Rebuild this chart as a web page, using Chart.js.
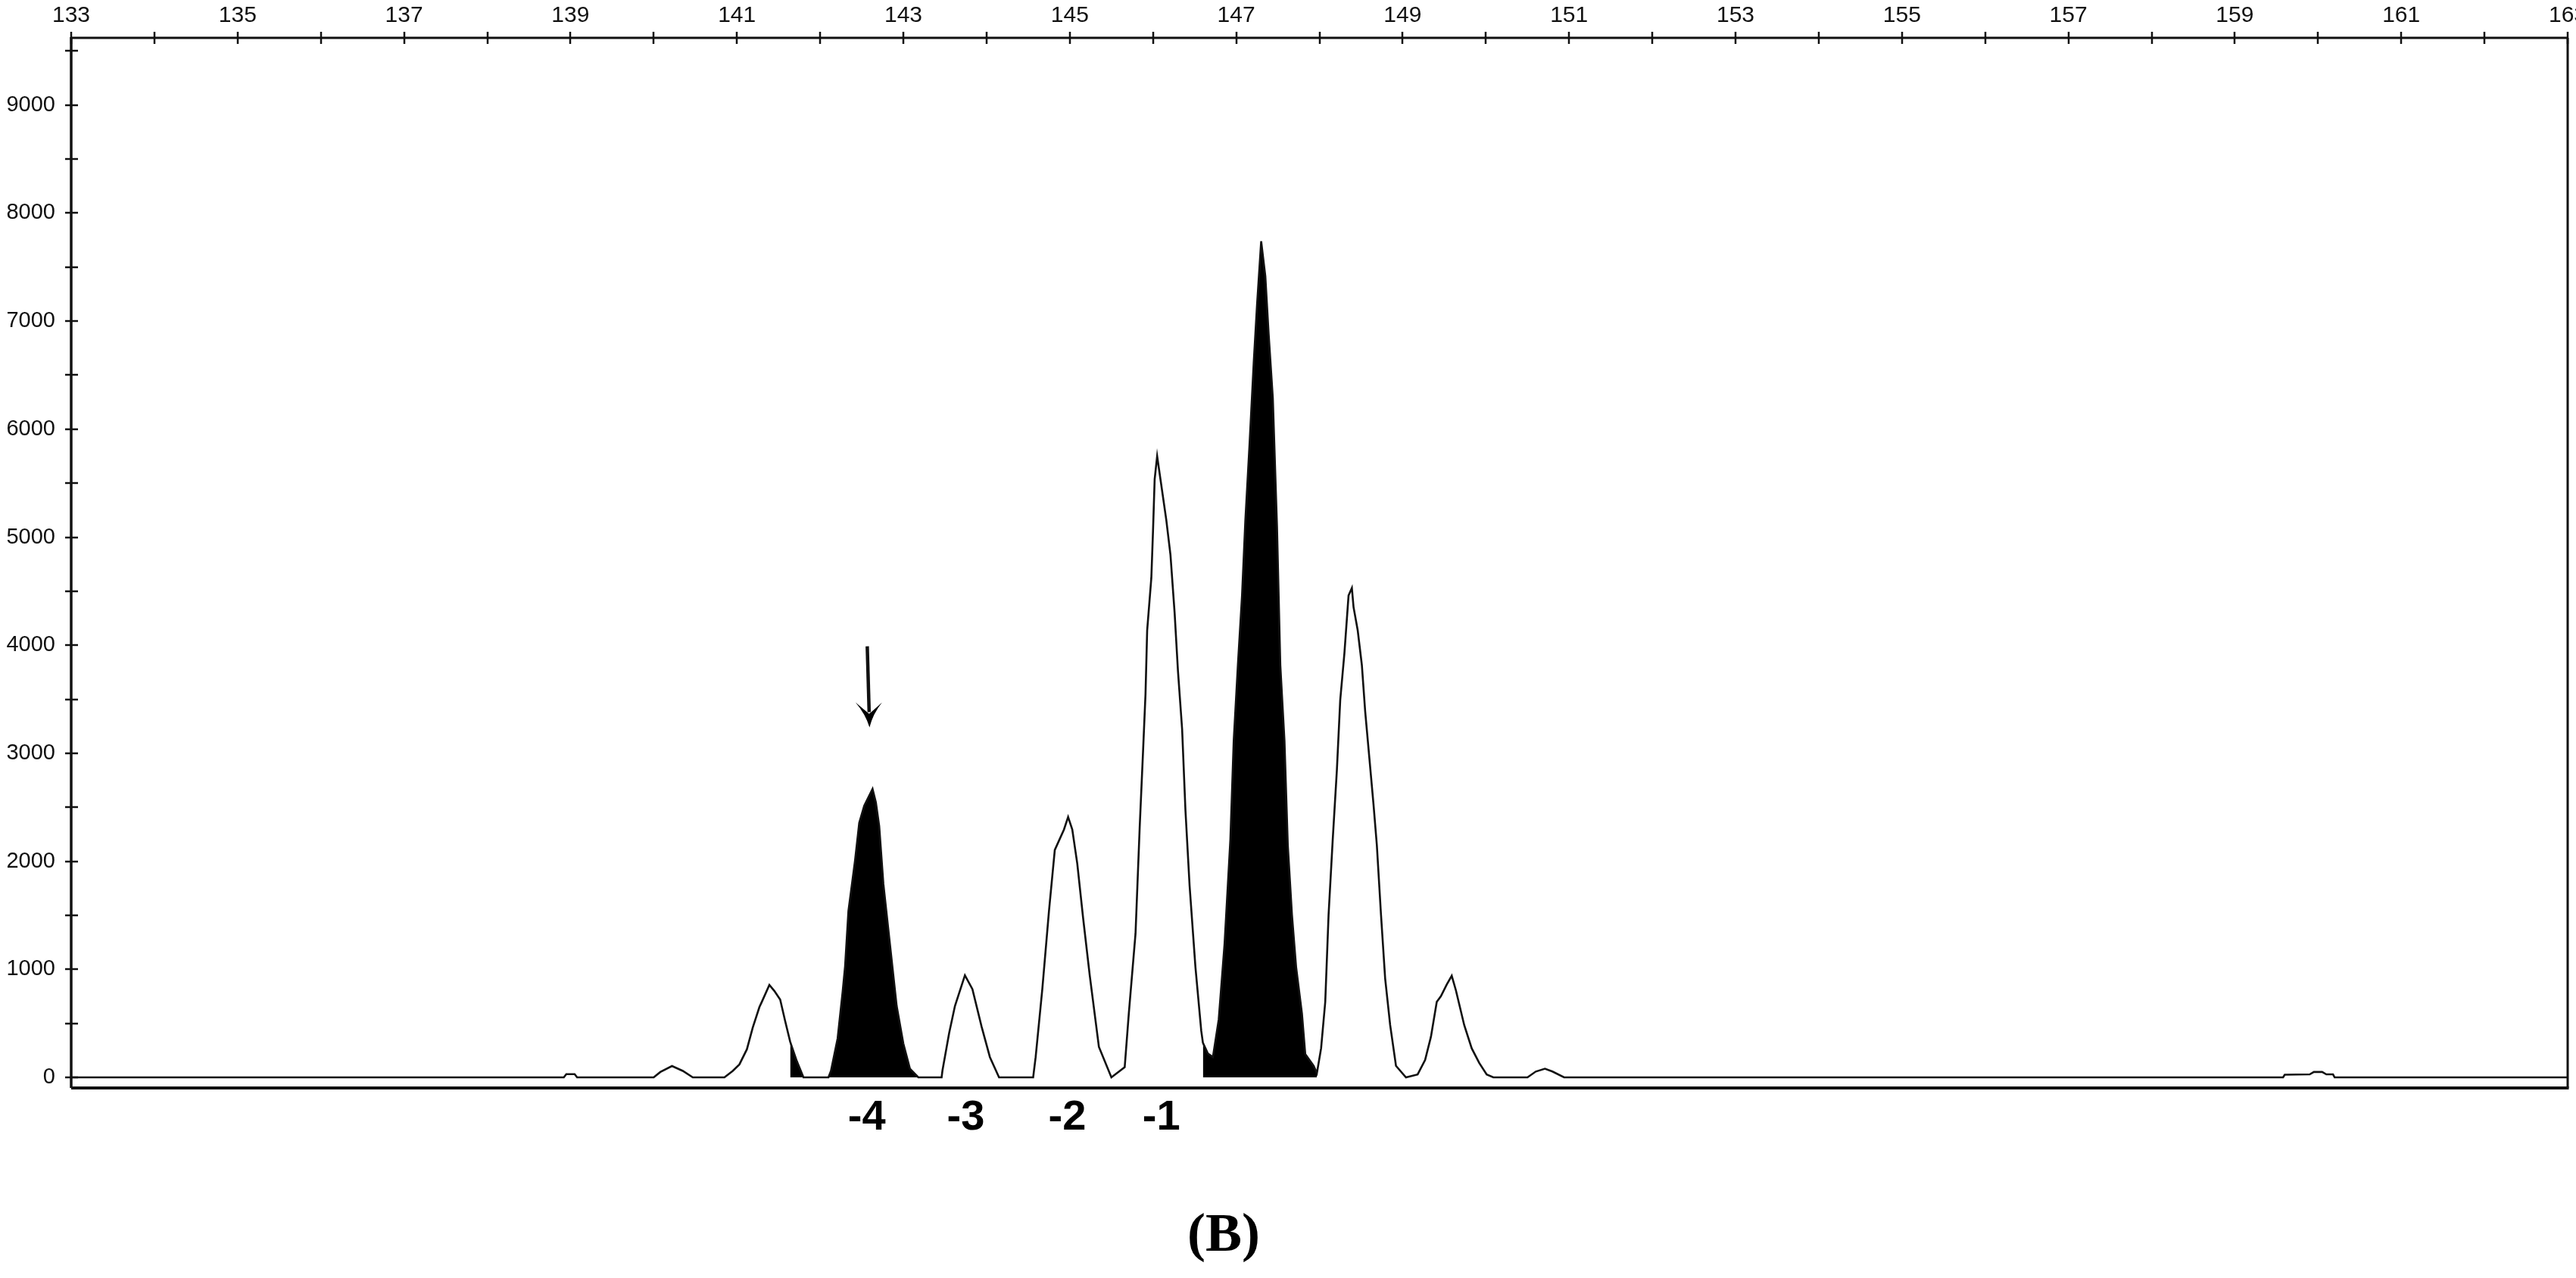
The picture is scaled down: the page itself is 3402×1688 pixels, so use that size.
<!DOCTYPE html>
<html>
<head>
<meta charset="utf-8">
<script src="https://cdn.jsdelivr.net/npm/chart.js@4/dist/chart.umd.min.js"></script>
<style>
  html, body { margin: 0; padding: 0; background: #fff; }
  #wrap { position: relative; width: 3402px; height: 1688px; }
  canvas { display: block; }
</style>
</head>
<body>
<div id="wrap"><canvas id="c" width="3402" height="1688"></canvas></div>
<script>
// ---- data ----
const sizes = [
  133.00, 138.92, 138.95, 139.05, 139.08, 140.00, 140.08, 140.22, 140.35, 140.47,
  140.85, 140.95, 141.03, 141.12, 141.19, 141.27, 141.30, 141.39, 141.45, 141.52,
  141.58, 141.64, 141.72, 141.80, 142.10, 142.13, 142.21, 142.27, 142.30, 142.34,
  142.42, 142.47, 142.53, 142.63, 142.67, 142.71, 142.76, 142.84, 142.92, 143.00,
  143.08, 143.18, 143.46, 143.47, 143.55, 143.62, 143.74, 143.83, 143.94, 144.04,
  144.15, 144.56, 144.59, 144.67, 144.75, 144.82, 144.93, 144.98, 145.03, 145.09,
  145.16, 145.24, 145.35, 145.50, 145.66, 145.71, 145.79, 145.84, 145.88, 145.91,
  145.93, 145.98, 146.00, 146.02, 146.05, 146.09, 146.16, 146.21, 146.26, 146.30,
  146.35, 146.39, 146.44, 146.51, 146.58, 146.60, 146.66, 146.72, 146.79, 146.86,
  146.93, 146.97, 147.02, 147.07, 147.11, 147.16, 147.21, 147.25, 147.30, 147.35,
  147.39, 147.44, 147.49, 147.53, 147.58, 147.62, 147.67, 147.72, 147.79, 147.83,
  147.93, 147.97, 148.02, 148.07, 148.11, 148.16, 148.21, 148.25, 148.30, 148.35,
  148.39, 148.41, 148.46, 148.51, 148.55, 148.60, 148.65, 148.69, 148.74, 148.79,
  148.85, 148.92, 149.04, 149.18, 149.27, 149.34, 149.41, 149.46, 149.53, 149.59,
  149.64, 149.74, 149.83, 149.92, 150.01, 150.09, 150.50, 150.60, 150.71, 150.80,
  150.94, 159.58, 159.60, 159.90, 159.95, 160.05, 160.10, 160.18, 160.20, 163.00
];
const rfu = [
  0, 0, 30, 30, 0, 0, 50, 105, 60, 0,
  0, 60, 120, 260, 460, 650, 700, 855, 800, 720,
  520, 330, 150, 0, 0, 60, 360, 790, 1030, 1540,
  2011, 2357, 2514, 2670, 2545, 2325, 1791, 1225, 660, 314,
  79, 0, 0, 63, 408, 660, 945, 817, 471, 188,
  0, 0, 188, 817, 1540, 2105, 2294, 2410, 2294, 1979,
  1477, 943, 283, 0, 94, 597, 1330, 2311, 3009, 3547,
  4138, 4622, 5052, 5535, 5750, 5535, 5159, 4837, 4299, 3762,
  3224, 2472, 1773, 1021, 430, 320, 220, 188, 537, 1236,
  2203, 3117, 3816, 4460, 5159, 5858, 6610, 7147, 7740, 7416,
  6879, 6288, 5105, 3816, 3117, 2150, 1505, 1021, 591, 215,
  107, 40, 269, 699, 1505, 2203, 2848, 3493, 3923, 4460,
  4530, 4353, 4138, 3816, 3386, 2956, 2526, 2150, 1505, 914,
  484, 107, 0, 27, 161, 376, 699, 752, 860, 940,
  806, 484, 269, 134, 27, 0, 0, 54, 80, 54,
  0, 0, 25, 28, 50, 50, 28, 28, 0, 0
];
// size ranges of the two black (filled) peaks
const fillRanges = [[141.64, 143.18], [146.60, 147.97]];

// axis ticks
const xTickValues = [133,134,135,136,137,138,139,140,141,142,143,144,145,146,147,148,149,150,151,152,153,154,155,156,157,158,159,160,161,162,163];
const xLabelValues = [133,135,137,139,141,143,145,147,149,151,153,155,157,159,161,163];
const yTickValues = [0,500,1000,1500,2000,2500,3000,3500,4000,4500,5000,5500,6000,6500,7000,7500,8000,8500,9000,9500];
const yLabelValues = [0,1000,2000,3000,4000,5000,6000,7000,8000,9000];

// peak annotations below the axis
const peakLabels = ['-4', '-3', '-2', '-1'];
const peakLabelSizes = [142.56, 143.75, 144.97, 146.10];
const arrowSize = 142.58;          // bp position of the arrow
const arrowFromTo = [3990, 3240];  // RFU span of the arrow
const panelLabel = '(B)';

// ---- build datasets ----
const trace = sizes.map((s, i) => ({ x: s, y: rfu[i] }));
const fills = fillRanges.map(([a, b]) => trace.filter(p => p.x >= a - 1e-9 && p.x <= b + 1e-9));

const datasets = [
  {
    data: trace,
    borderColor: '#111',
    borderWidth: 2.6,
    pointRadius: 0,
    tension: 0,
    fill: false,
    borderJoinStyle: 'miter'
  }
].concat(fills.map(f => ({
  data: f,
  borderColor: 'rgba(0,0,0,0)',
  borderWidth: 0,
  backgroundColor: '#000',
  pointRadius: 0,
  tension: 0,
  fill: 'origin'
})));

const decor = {
  id: 'decor',
  afterDraw(chart) {
    const ctx = chart.ctx;
    const xs = chart.scales.x, ys = chart.scales.y;
    const ca = chart.chartArea;
    ctx.save();
    ctx.strokeStyle = '#111';
    ctx.fillStyle = '#000';
    // frame
    ctx.lineWidth = 3;
    ctx.beginPath(); ctx.moveTo(ca.left, ca.top); ctx.lineTo(ca.right, ca.top); ctx.stroke();
    ctx.beginPath(); ctx.moveTo(ca.right, ca.top); ctx.lineTo(ca.right, ca.bottom); ctx.stroke();
    ctx.lineWidth = 3.5;
    ctx.beginPath(); ctx.moveTo(ca.left, ca.top - 1); ctx.lineTo(ca.left, ca.bottom); ctx.stroke();
    ctx.lineWidth = 4;
    ctx.beginPath(); ctx.moveTo(ca.left, ca.bottom); ctx.lineTo(ca.right + 1.5, ca.bottom); ctx.stroke();
    // x ticks crossing the top axis
    ctx.lineWidth = 2.5;
    xTickValues.forEach(v => {
      const px = Math.round(xs.getPixelForValue(v));
      ctx.beginPath(); ctx.moveTo(px, ca.top - 8); ctx.lineTo(px, ca.top + 8); ctx.stroke();
    });
    // y ticks crossing the left axis
    yTickValues.forEach(v => {
      const py = Math.round(ys.getPixelForValue(v));
      ctx.beginPath(); ctx.moveTo(ca.left - 8, py); ctx.lineTo(ca.left + 9, py); ctx.stroke();
    });
    // arrow
    const ax = xs.getPixelForValue(arrowSize);
    const ay0 = ys.getPixelForValue(arrowFromTo[0]);
    const ay1 = ys.getPixelForValue(arrowFromTo[1]);
    ctx.lineWidth = 4.5;
    ctx.beginPath(); ctx.moveTo(ax - 1.5, ay0); ctx.lineTo(ax + 1, ay1 - 20); ctx.stroke();
    ctx.beginPath();
    ctx.moveTo(ax + 1.5, ay1);
    ctx.quadraticCurveTo(ax - 4, ay1 - 18, ax - 17, ay1 - 33);
    ctx.quadraticCurveTo(ax - 4, ay1 - 22, ax + 1, ay1 - 18);
    ctx.quadraticCurveTo(ax + 6, ay1 - 22, ax + 18, ay1 - 33);
    ctx.quadraticCurveTo(ax + 6, ay1 - 18, ax + 1.5, ay1);
    ctx.closePath();
    ctx.fill();
    // peak labels below the axis
    ctx.font = 'bold 56px "Liberation Sans", Arial, sans-serif';
    ctx.textAlign = 'center';
    ctx.textBaseline = 'middle';
    peakLabels.forEach((t, i) => {
      ctx.fillText(t, xs.getPixelForValue(peakLabelSizes[i]), ca.bottom + 40);
    });
    // panel label
    ctx.font = 'bold 72px "Liberation Serif", "Times New Roman", serif';
    ctx.fillText(panelLabel, (chart.width) / 2 - 85, ca.bottom + 196);
    ctx.restore();
  }
};

new Chart(document.getElementById('c'), {
  type: 'line',
  data: { datasets },
  options: {
    responsive: false,
    devicePixelRatio: 1,
    animation: false,
    parsing: false,
    layout: { autoPadding: false, padding: { left: 0, right: 11, top: 0, bottom: 251 } },
    plugins: { legend: { display: false }, tooltip: { enabled: false } },
    scales: {
      x: {
        type: 'linear',
        position: 'top',
        min: 133,
        max: 163,
        afterBuildTicks: s => { s.ticks = xTickValues.map(v => ({ value: v })); },
        afterFit: s => { s.height = 50; s.paddingLeft = 0; s.paddingRight = 0; },
        border: { display: false },
        grid: { display: false, drawTicks: false },
        ticks: {
          autoSkip: false,
          maxRotation: 0,
          padding: 11,
          color: '#111',
          font: { family: '"Liberation Sans", Arial, sans-serif', size: 30 },
          callback: v => xLabelValues.includes(v) ? String(v) : ''
        }
      },
      y: {
        type: 'linear',
        position: 'left',
        min: -98,
        max: 9622,
        afterBuildTicks: s => { s.ticks = yTickValues.map(v => ({ value: v })); },
        afterFit: s => { s.width = 94; s.paddingTop = 0; s.paddingBottom = 0; },
        border: { display: false },
        grid: { display: false, drawTicks: false },
        ticks: {
          autoSkip: false,
          padding: 21,
          color: '#111',
          font: { family: '"Liberation Sans", Arial, sans-serif', size: 29 },
          callback: v => yLabelValues.includes(v) ? String(v) : ''
        }
      }
    }
  },
  plugins: [decor]
});
</script>
</body>
</html>
